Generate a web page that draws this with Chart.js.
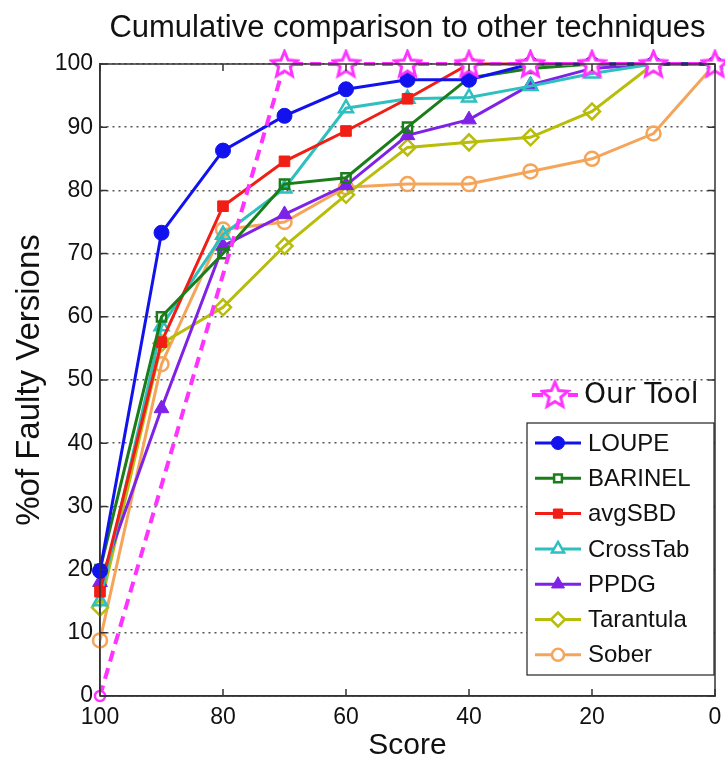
<!DOCTYPE html>
<html>
<head>
<meta charset="utf-8">
<script src="https://cdn.jsdelivr.net/npm/chart.js@4.4.0/dist/chart.umd.min.js"></script>
<style>
  body { margin: 0; background: #fff; }
  canvas { display: block; }
</style>
</head>
<body>
<canvas id="cmpChart" width="725" height="764"></canvas>
<script>
// scores along x (reversed axis: 100 on the left, 0 on the right)
const scores = [100, 90, 80, 70, 60, 50, 40, 30, 20, 10, 0];

// % of faulty versions located
const loupe     = [19.8, 73.3, 86.3, 91.8, 96.0, 97.5, 97.5, 100, 100, 100, 100];
const barinel   = [20.0, 60.0, 70.0, 81.0, 82.0, 90.0, 97.8, 99.3, 100, 100, 100];
const avgSBD    = [16.5, 56.0, 77.5, 84.6, 89.4, 94.5, 100, 100, 100, 100, 100];
const crossTab  = [15.0, 58.5, 73.0, 80.3, 93.0, 94.5, 94.7, 96.5, 98.5, 100, 100];
const ppdg      = [18.0, 45.5, 71.2, 76.2, 80.8, 88.7, 91.2, 96.7, 99.3, 100, 100];
const tarantula = [14.0, 55.8, 61.5, 71.2, 79.3, 86.8, 87.6, 88.4, 92.5, 100, 100];
const sober     = [8.8, 52.5, 73.8, 75.0, 80.5, 81.0, 81.0, 83.0, 85.0, 89.0, 100];

// our tool only has points at these scores
const ourToolScores = [100, 70, 60, 50, 40, 30, 20, 10, 0];
const ourTool       = [0, 100, 100, 100, 100, 100, 100, 100, 100];

// 5-point outlined star used as a marker
function makeStar(size, color) {
  const c = document.createElement('canvas');
  c.width = size; c.height = size;
  const g = c.getContext('2d');
  const cx = size / 2, R = size / 2 - 2, r = R * 0.45;
  g.beginPath();
  for (let i = 0; i < 10; i++) {
    const a = -Math.PI / 2 + i * Math.PI / 5;
    const rad = i % 2 ? r : R;
    g.lineTo(cx + rad * Math.cos(a), cx + 1 + rad * Math.sin(a));
  }
  g.closePath();
  g.fillStyle = '#fff';
  g.fill();
  g.lineWidth = 3;
  g.strokeStyle = color;
  g.stroke();
  return c;
}

const magenta = '#ff33ff';
const star = makeStar(31, magenta);

function pts(xs, ys) {
  return xs.map((x, i) => ({ x: x, y: ys[i] }));
}

function series(label, values, color, style, filled, radius) {
  return {
    label: label,
    data: pts(scores, values),
    borderColor: color,
    backgroundColor: filled ? color : 'rgba(255,255,255,0)',
    borderWidth: 3,
    pointStyle: style,
    pointRadius: radius,
    pointBorderWidth: filled ? 1 : 2.5,
    pointBackgroundColor: filled ? color : 'rgba(255,255,255,0)',
    pointBorderColor: color,
    tension: 0,
    clip: false
  };
}

const datasets = [
  {
    label: 'Our Tool',
    data: pts(ourToolScores, ourTool),
    borderColor: magenta,
    borderWidth: 4,
    borderDash: [11, 7],
    pointStyle: ourToolScores.map((s, i) => i === 0 ? 'circle' : star),
    pointRadius: ourToolScores.map((s, i) => i === 0 ? 5 : 15),
    pointBorderWidth: 2.5,
    pointBackgroundColor: '#fff',
    pointBorderColor: magenta,
    tension: 0,
    clip: false
  },
  series('LOUPE', loupe, '#1212ee', 'circle', true, 7.5),
  series('BARINEL', barinel, '#1a7d1a', 'rect', false, 6.5),
  series('avgSBD', avgSBD, '#f01e14', 'rect', true, 7.5),
  series('CrossTab', crossTab, '#2ebfbf', 'triangle', false, 8),
  series('PPDG', ppdg, '#7d22e6', 'triangle', true, 8.5),
  series('Tarantula', tarantula, '#b8bd0a', 'rectRot', false, 8),
  series('Sober', sober, '#f5a55a', 'circle', false, 7)
];

// frame, inward ticks and the legend inside the plot
const framePlugin = {
  id: 'frame',
  afterDatasetsDraw(chart) {
    const ctx = chart.ctx;
    const a = chart.chartArea;
    const xs = chart.scales.x, ys = chart.scales.y;
    ctx.save();
    ctx.strokeStyle = '#333';
    ctx.lineWidth = 1.5;
    ctx.strokeRect(a.left, a.top, a.right - a.left, a.bottom - a.top);
    ctx.beginPath();
    xs.ticks.forEach(t => {
      const px = xs.getPixelForValue(t.value);
      ctx.moveTo(px, a.bottom); ctx.lineTo(px, a.bottom - 7);
      ctx.moveTo(px, a.top); ctx.lineTo(px, a.top + 7);
    });
    ys.ticks.forEach(t => {
      const py = ys.getPixelForValue(t.value);
      ctx.moveTo(a.left, py); ctx.lineTo(a.left + 7, py);
      ctx.moveTo(a.right, py); ctx.lineTo(a.right - 7, py);
    });
    ctx.stroke();
    ctx.restore();
  },
  afterDraw(chart) {
    const ctx = chart.ctx;
    const a = chart.chartArea;
    const drawPoint = Chart.helpers && Chart.helpers.drawPoint;
    ctx.save();

    // "Our Tool" entry sits above the box, no frame
    const ot = chart.data.datasets[0];
    const oy = a.bottom - 301;
    ctx.strokeStyle = magenta;
    ctx.lineWidth = 4;
    ctx.setLineDash([11, 7]);
    ctx.beginPath();
    ctx.moveTo(a.right - 183, oy); ctx.lineTo(a.right - 137, oy);
    ctx.stroke();
    ctx.setLineDash([]);
    ctx.drawImage(star, a.right - 160 - 15.5, oy - 16);
    ctx.fillStyle = '#111';
    ctx.font = '28px "DejaVu Sans"';
    ctx.textBaseline = 'middle';
    ctx.fillText(ot.label, a.right - 131, oy + 1);

    // boxed legend for the other techniques
    const bx = a.left + 427, by = a.top + 359, bw = a.right - 1 - bx, bh = 252;
    ctx.fillStyle = '#fff';
    ctx.fillRect(bx, by, bw, bh);
    ctx.strokeStyle = '#222';
    ctx.lineWidth = 1.2;
    ctx.strokeRect(bx, by, bw, bh);

    ctx.font = '24px "Liberation Sans", Arial, sans-serif';
    for (let i = 1; i < chart.data.datasets.length; i++) {
      const ds = chart.data.datasets[i];
      const y = by + 20 + (i - 1) * 35.3;
      ctx.strokeStyle = ds.borderColor;
      ctx.lineWidth = 3;
      ctx.beginPath();
      ctx.moveTo(bx + 8, y); ctx.lineTo(bx + 54, y);
      ctx.stroke();
      ctx.fillStyle = ds.pointBackgroundColor === 'rgba(255,255,255,0)' ? '#fff' : ds.pointBackgroundColor;
      ctx.strokeStyle = ds.pointBorderColor;
      ctx.lineWidth = ds.pointBorderWidth;
      if (drawPoint) {
        drawPoint(ctx, { pointStyle: ds.pointStyle, radius: ds.pointRadius - 1, rotation: 0, borderWidth: ds.pointBorderWidth }, bx + 31, y);
      }
      ctx.fillStyle = '#111';
      ctx.fillText(ds.label, bx + 61, y + 1);
    }
    ctx.restore();
  }
};

const ctx = document.getElementById('cmpChart').getContext('2d');
const chart = new Chart(ctx, {
  type: 'line',
  data: { datasets: datasets },
  options: {
    responsive: false,
    animation: false,
    events: [],
    layout: { autoPadding: false, padding: { top: 0, right: 10, left: 0, bottom: 0 } },
    scales: {
      x: {
        type: 'linear',
        reverse: true,
        min: 0,
        max: 100,
        ticks: {
          stepSize: 20,
          color: '#111',
          padding: 8,
          maxRotation: 0,
          font: { family: '"Liberation Sans", Arial, sans-serif', size: 23 }
        },
        grid: { display: false, drawTicks: false },
        border: { color: '#333', width: 1.5 },
        title: {
          display: true,
          text: 'Score',
          color: '#111',
          padding: { top: 0, bottom: 0 },
          font: { family: '"Liberation Sans", Arial, sans-serif', size: 30 }
        },
        afterFit: s => { s.height = 68; s.paddingLeft = 0; s.paddingRight = 0; }
      },
      y: {
        min: 0,
        max: 100,
        ticks: {
          stepSize: 10,
          color: '#111',
          padding: 7,
          font: { family: '"Liberation Sans", Arial, sans-serif', size: 23 }
        },
        grid: { color: '#555', lineWidth: 1.5, drawTicks: false },
        border: { color: '#333', width: 1.5, dash: [2, 4] },
        title: {
          display: true,
          text: '%of Faulty Versions',
          color: '#111',
          padding: { top: 10, bottom: 0 },
          font: { family: '"Liberation Sans", Arial, sans-serif', size: 33 }
        },
        afterFit: s => { s.width = 100; }
      }
    },
    plugins: {
      legend: { display: false },
      tooltip: { enabled: false },
      title: {
        display: true,
        fullSize: false,
        text: 'Cumulative comparison to other techniques',
        color: '#111',
        padding: { top: 10, bottom: 16.8 },
        font: { family: '"Liberation Sans", Arial, sans-serif', size: 31, weight: 'normal', lineHeight: 1.2 }
      }
    }
  },
  plugins: [framePlugin]
});
</script>
</body>
</html>
